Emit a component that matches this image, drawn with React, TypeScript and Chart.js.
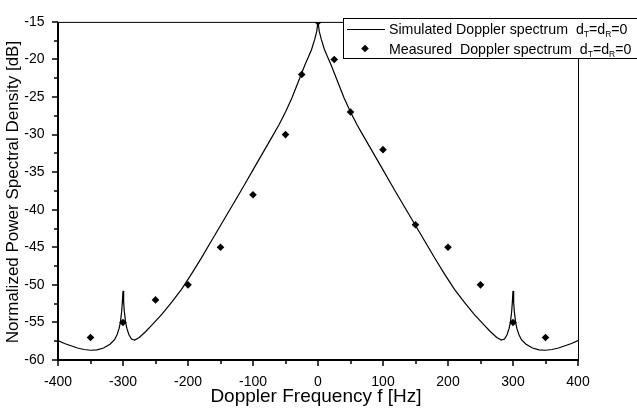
import React, { useEffect, useRef } from 'react';
import { Chart, registerables } from 'chart.js';
Chart.register(...registerables);

// Simulated Doppler spectrum
const simFreq = [
  -400, -390, -380, -370, -360, -350, -340, -330, -320, -313, -309, -306, -304, -302, -301, -300,
  -299, -298, -296, -294, -291, -287, -282, -275, -265, -255, -240, -225, -210, -195, -180, -165,
  -150, -135, -120, -110, -100, -90, -80, -70, -60, -50, -40, -30, -25, -20, -15, -10, -5, -2, 0,
  2, 5, 10, 15, 20, 25, 30, 40, 50, 60, 70, 80, 90, 100, 110, 120, 135, 150, 165, 180, 195, 210,
  225, 240, 255, 265, 275, 282, 287, 291, 294, 296, 298, 299, 300, 301, 302, 304, 306, 309, 313,
  320, 330, 340, 350, 360, 370, 380, 390, 400,
];
const simPsd = [
  -57.4, -57.8, -58.1, -58.4, -58.6, -58.7, -58.65, -58.4, -57.9, -57.3, -56.6, -55.8, -55.0, -53.5, -52.3, -50.8,
  -52.3, -53.5, -55.0, -55.8, -56.6, -57.2, -57.35, -57.0, -56.2, -55.3, -53.9, -52.3, -50.6, -48.6, -46.5, -44.3,
  -42.1, -39.9, -37.7, -36.2, -34.7, -33.2, -31.7, -30.2, -28.7, -27.0, -25.1, -22.9, -21.8, -20.7, -19.7, -18.7, -17.3, -16.3, -15.0,
  -16.3, -17.3, -18.7, -19.7, -20.7, -21.8, -22.9, -25.1, -27.0, -28.7, -30.2, -31.7, -33.2, -34.7, -36.2, -37.7, -39.9, -42.1, -44.3, -46.5, -48.6, -50.6,
  -52.3, -53.9, -55.3, -56.2, -57.0, -57.35, -57.2, -56.6, -55.8, -55.0, -53.5, -52.3, -50.8, -52.3, -53.5, -55.0, -55.8, -56.6, -57.3,
  -57.9, -58.4, -58.65, -58.7, -58.6, -58.4, -58.1, -57.8, -57.4,
];

// Measured Doppler spectrum
const measFreq = [-350, -300, -250, -200, -150, -100, -50, -25, 0, 25, 50, 100, 150, 200, 250, 300, 350];
const measPsd = [-57, -55, -52, -50, -45, -38, -30, -22, -15, -20, -27, -32, -42, -45, -50, -55, -57];

// Axis ticks
const xTicks = [-400, -300, -200, -100, 0, 100, 200, 300, 400];
const xMinorTicks = [-350, -250, -150, -50, 50, 150, 250, 350];
const yTicks = [-15, -20, -25, -30, -35, -40, -45, -50, -55, -60];
const yMinorTicks = [-17.5, -22.5, -27.5, -32.5, -37.5, -42.5, -47.5, -52.5, -57.5];

const xTitle = 'Doppler Frequency f [Hz]';
const yTitle = 'Normalized Power Spectral Density [dB]';
const simLabel = 'Simulated Doppler spectrum  d';
const measLabel = 'Measured  Doppler spectrum  d';

const FONT = '"Liberation Sans", Arial, Helvetica, sans-serif';

const framePlugin = {
  id: 'frameAndLegend',
  afterDraw(chart: any) {
    const ctx = chart.ctx;
    const { left, right, top, bottom } = chart.chartArea;
    const xs = chart.scales.x;
    const ys = chart.scales.y;
    ctx.save();
    ctx.strokeStyle = '#000';
    // frame
    ctx.lineWidth = 1;
    ctx.beginPath();
    ctx.moveTo(left, top + 0.5);
    ctx.lineTo(right + 0.5, top + 0.5);
    ctx.lineTo(right + 0.5, bottom);
    ctx.stroke();
    ctx.lineWidth = 2;
    ctx.beginPath();
    ctx.moveTo(left, top);
    ctx.lineTo(left, bottom);
    ctx.lineTo(right + 1, bottom);
    ctx.stroke();
    // ticks
    ctx.lineWidth = 1.5;
    ctx.beginPath();
    xTicks.forEach((v) => {
      const p = Math.round(xs.getPixelForValue(v));
      ctx.moveTo(p, bottom);
      ctx.lineTo(p, bottom + 6);
    });
    xMinorTicks.forEach((v) => {
      const p = Math.round(xs.getPixelForValue(v));
      ctx.moveTo(p, bottom);
      ctx.lineTo(p, bottom + 4);
    });
    yTicks.forEach((v) => {
      const p = Math.round(ys.getPixelForValue(v));
      ctx.moveTo(left, p);
      ctx.lineTo(left - 6, p);
    });
    yMinorTicks.forEach((v) => {
      const p = Math.round(ys.getPixelForValue(v));
      ctx.moveTo(left, p);
      ctx.lineTo(left - 4, p);
    });
    ctx.stroke();

    // axis titles
    ctx.fillStyle = '#000';
    ctx.textAlign = 'center';
    ctx.textBaseline = 'middle';
    ctx.font = `19px ${FONT}`;
    ctx.fillText(xTitle, (left + right) / 2 - 2, 397);
    ctx.save();
    ctx.translate(13, 192);
    ctx.rotate(-Math.PI / 2);
    ctx.font = `17px ${FONT}`;
    ctx.fillText(yTitle, 0, 0);
    ctx.restore();

    // legend
    const bx = 343.5, by = 18.5, bw = 320, bh = 40;
    ctx.fillStyle = '#fff';
    ctx.fillRect(bx, by, bw, bh);
    ctx.lineWidth = 1;
    ctx.strokeRect(bx, by, bw, bh);
    // line sample
    ctx.beginPath();
    ctx.moveTo(347, 29.5);
    ctx.lineTo(385, 29.5);
    ctx.stroke();
    // diamond sample
    ctx.fillStyle = '#000';
    ctx.beginPath();
    const dx = 365, dy = 48.5, r = 3.8;
    ctx.moveTo(dx, dy - r);
    ctx.lineTo(dx + r, dy);
    ctx.lineTo(dx, dy + r);
    ctx.lineTo(dx - r, dy);
    ctx.closePath();
    ctx.fill();

    const drawLabel = (text: string, x: number, y: number) => {
      ctx.textBaseline = 'alphabetic';
      ctx.textAlign = 'left';
      ctx.font = `14.2px ${FONT}`;
      ctx.fillText(text, x, y);
      let cx = x + ctx.measureText(text).width;
      ctx.font = `8.5px ${FONT}`;
      ctx.fillText('T', cx, y + 3);
      cx += ctx.measureText('T').width;
      ctx.font = `14.2px ${FONT}`;
      ctx.fillText('=d', cx, y);
      cx += ctx.measureText('=d').width;
      ctx.font = `8.5px ${FONT}`;
      ctx.fillText('R', cx, y + 3);
      cx += ctx.measureText('R').width;
      ctx.font = `14.2px ${FONT}`;
      ctx.fillText('=0', cx, y);
    };
    drawLabel(simLabel, 389, 34);
    drawLabel(measLabel, 389, 53.5);
    ctx.restore();
  },
};

export default function App() {
  const ref = useRef<HTMLCanvasElement | null>(null);
  useEffect(() => {
    document.body.style.margin = '0';
    const canvas = ref.current;
    if (!canvas) return;
    const simData = simFreq.map((f, i) => ({ x: f, y: simPsd[i] }));
    const measData = measFreq.map((f, i) => ({ x: f, y: measPsd[i] }));
    const chart = new Chart(canvas, {
      type: 'scatter',
      data: {
        datasets: [
          {
            label: 'Simulated Doppler spectrum dT=dR=0',
            data: simData,
            showLine: true,
            borderColor: '#000',
            borderWidth: 1.2,
            pointRadius: 0,
            tension: 0,
          },
          {
            label: 'Measured Doppler spectrum dT=dR=0',
            data: measData,
            showLine: false,
            pointStyle: 'rectRot',
            pointRadius: 3.8,
            backgroundColor: '#000',
            borderColor: '#000',
            borderWidth: 0,
          },
        ],
      },
      plugins: [framePlugin],
      options: {
        responsive: false,
        animation: false,
        devicePixelRatio: 1,
        layout: { padding: { left: 0, right: 59, top: 10, bottom: 0 } },
        plugins: { legend: { display: false }, tooltip: { enabled: false } },
        scales: {
          x: {
            type: 'linear',
            min: -400,
            max: 400,
            afterBuildTicks: (s: any) => {
              s.ticks = xTicks.map((v) => ({ value: v }));
            },
            afterFit: (s: any) => {
              s.height = 54;
            },
            grid: { display: false, drawTicks: false },
            border: { display: false },
            ticks: {
              color: '#000',
              font: { family: FONT, size: 14 },
              padding: 14,
              maxRotation: 0,
              autoSkip: false,
            },
          },
          y: {
            type: 'linear',
            min: -60,
            max: -15,
            afterBuildTicks: (s: any) => {
              s.ticks = yTicks.map((v) => ({ value: v }));
            },
            afterFit: (s: any) => {
              s.width = 58;
            },
            grid: { display: false, drawTicks: false },
            border: { display: false },
            ticks: {
              color: '#000',
              font: { family: FONT, size: 14 },
              padding: 13.5,
              autoSkip: false,
            },
          },
        },
      },
    });
    return () => chart.destroy();
  }, []);
  return (
    <div style={{ position: 'absolute', left: 0, top: 0, width: 637, height: 414, background: '#fff' }}>
      <canvas ref={ref} width={637} height={414} />
    </div>
  );
}
